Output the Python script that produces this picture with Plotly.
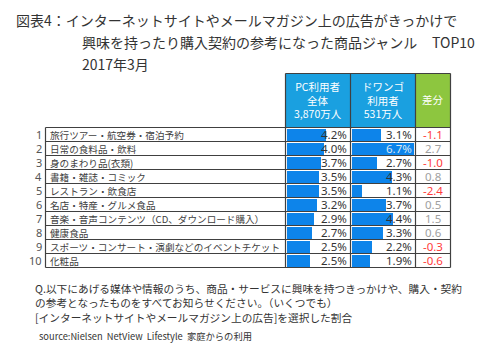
import plotly.graph_objects as go

W, H = 500, 351

ranks = ["1", "2", "3", "4", "5", "6", "7", "8", "9", "10"]
categories = [
    "旅行ツアー・航空券・宿泊予約",
    "日常の食料品・飲料",
    "身のまわり品(衣類)",
    "書籍・雑誌・コミック",
    "レストラン・飲食店",
    "名店・特産・グルメ食品",
    "音楽・音声コンテンツ（CD、ダウンロード購入）",
    "健康食品",
    "スポーツ・コンサート・演劇などのイベントチケット",
    "化粧品",
]
pc_values = [4.2, 4.0, 3.7, 3.5, 3.5, 3.2, 2.9, 2.7, 2.5, 2.5]
dwango_values = [3.1, 6.7, 2.7, 4.3, 1.1, 3.7, 4.4, 3.3, 2.2, 1.9]
diff_values = [-1.1, 2.7, -1.0, 0.8, -2.4, 0.5, 1.5, 0.6, -0.3, -0.6]

header_pc = "PC利用者<br>全体<br>3,870万人"
header_dw = "ドワンゴ<br>利用者<br>531万人"
header_diff = "差分"

title_lines = [
    "図表4：インターネットサイトやメールマガジン上の広告がきっかけで",
    "興味を持ったり購入契約の参考になった商品ジャンル",
    "2017年3月",
]
title_top10 = "TOP10"
footer_lines = [
    "Q.以下にあげる媒体や情報のうち、商品・サービスに興味を持つきっかけや、購入・契約",
    "の参考となったものをすべてお知らせください。（いくつでも）",
    "[インターネットサイトやメールマガジン上の広告]を選択した割合",
]
source_text = "source:Nielsen  NetView  Lifestyle  家庭からの利用"

# layout geometry in pixels
TOP = 127.5
ROW_H = 14
N = len(categories)
BOTTOM = TOP + ROW_H * N
HEAD_TOP = 73.5
X_LAB = 45.5
X_PC = 285.5
X_DW = 350.5
X_DIFF = 415.5
X_END = 450.5

def px(x):
    return x / W

def py(y):
    return 1 - y / H

FONT_JP = "Noto Sans CJK JP"
FONT_NUM = "Noto Sans, Noto Sans CJK JP"
BAR_COLOR = "#0d84ea"
LINE_COLOR = "#404040"

idx = list(range(N))
fig = go.Figure()
fig.add_trace(go.Bar(x=pc_values, y=idx, orientation="h", xaxis="x", yaxis="y",
                     marker=dict(color=BAR_COLOR, line=dict(width=0)), width=0.84,
                     hoverinfo="skip", showlegend=False))
fig.add_trace(go.Bar(x=dwango_values, y=idx, orientation="h", xaxis="x2", yaxis="y",
                     marker=dict(color=BAR_COLOR, line=dict(width=0)), width=0.84,
                     hoverinfo="skip", showlegend=False))

ann = []
# titles
ann.append(dict(text=title_lines[0], x=px(14), y=py(19.5), xanchor="left", yanchor="middle"))
ann.append(dict(text=title_lines[1], x=px(80), y=py(42), xanchor="left", yanchor="middle"))
ann.append(dict(text=title_top10, x=px(430), y=py(42), xanchor="left", yanchor="middle"))
ann.append(dict(text=title_lines[2], x=px(80), y=py(64), xanchor="left", yanchor="middle"))
for a in ann:
    a.update(xref="paper", yref="paper", showarrow=False,
             font=dict(family=FONT_JP, size=14, color="#333333"))

# headers
for txt, xc in [(header_pc, (X_PC + X_DW) / 2), (header_dw, (X_DW + X_DIFF) / 2),
                (header_diff, (X_DIFF + X_END) / 2)]:
    ann.append(dict(text=txt, x=px(xc), y=py(100), xref="paper", yref="paper",
                    xanchor="center", yanchor="middle", showarrow=False,
                    font=dict(family=FONT_JP, size=10.5, color="white")))

# rows
for i in idx:
    ann.append(dict(text=ranks[i], x=px(44), y=i, xref="paper", yref="y",
                    xanchor="right", yanchor="middle", showarrow=False,
                    font=dict(family=FONT_NUM, size=11, color="#555555")))
    ann.append(dict(text=categories[i], x=px(47.5), y=i, xref="paper", yref="y",
                    xanchor="left", yanchor="middle", showarrow=False,
                    font=dict(family=FONT_JP, size=9.6, color="#404040")))
    ann.append(dict(text=f"{pc_values[i]:.1f}%", x=px(X_DW - 1.5), y=i, xref="paper", yref="y",
                    xanchor="right", yanchor="middle", showarrow=False,
                    font=dict(family=FONT_NUM, size=11.5, color="#333333")))
    dcol = "#dde8f2" if dwango_values[i] >= 6 else "#333333"
    ann.append(dict(text=f"{dwango_values[i]:.1f}%", x=px(X_DIFF - 1.5), y=i, xref="paper", yref="y",
                    xanchor="right", yanchor="middle", showarrow=False,
                    font=dict(family=FONT_NUM, size=11.5, color=dcol)))
    fcol = "#ff3b3b" if diff_values[i] < 0 else "#a0a0a0"
    ann.append(dict(text=f"{diff_values[i]:.1f}", x=px((X_DIFF + X_END) / 2), y=i, xref="paper", yref="y",
                    xanchor="center", yanchor="middle", showarrow=False,
                    font=dict(family=FONT_NUM, size=11.5, color=fcol)))

# footer
for k, (line, yc) in enumerate(zip(footer_lines, [288, 302.5, 317])):
    ann.append(dict(text=line, x=px(33), y=py(yc), xref="paper", yref="paper",
                    xanchor="left", yanchor="middle", showarrow=False,
                    font=dict(family=FONT_JP, size=10.7, color="#333333")))
ann.append(dict(text=source_text, x=px(37), y=py(336), xref="paper", yref="paper",
                xanchor="left", yanchor="middle", showarrow=False,
                font=dict(family=FONT_JP, size=9.3, color="#333333")))

shapes = []
# header fills
shapes.append(dict(type="rect", xref="paper", yref="paper", x0=px(X_PC), x1=px(X_DIFF),
                   y0=py(TOP), y1=py(HEAD_TOP), fillcolor="#1aa0e0", line=dict(width=0), layer="below"))
shapes.append(dict(type="rect", xref="paper", yref="paper", x0=px(X_DIFF), x1=px(X_END),
                   y0=py(TOP), y1=py(HEAD_TOP), fillcolor="#8dc63f", line=dict(width=0), layer="below"))
ln = dict(color=LINE_COLOR, width=1.2)
# horizontal lines
for k in range(N + 1):
    yy = TOP + ROW_H * k
    shapes.append(dict(type="line", xref="paper", yref="paper", x0=px(X_LAB), x1=px(X_END),
                       y0=py(yy), y1=py(yy), line=ln, layer="above"))
shapes.append(dict(type="line", xref="paper", yref="paper", x0=px(X_PC), x1=px(X_END),
                   y0=py(HEAD_TOP), y1=py(HEAD_TOP), line=ln, layer="above"))
# vertical lines
shapes.append(dict(type="line", xref="paper", yref="paper", x0=px(X_LAB), x1=px(X_LAB),
                   y0=py(TOP), y1=py(BOTTOM), line=ln, layer="above"))
for xx in [X_PC, X_DW, X_DIFF, X_END]:
    shapes.append(dict(type="line", xref="paper", yref="paper", x0=px(xx), x1=px(xx),
                       y0=py(HEAD_TOP), y1=py(BOTTOM), line=ln, layer="above"))

RMAX = 6.85
fig.update_layout(
    width=W, height=H, margin=dict(l=0, r=0, t=0, b=0),
    paper_bgcolor="white", plot_bgcolor="rgba(0,0,0,0)",
    xaxis=dict(domain=[px(X_PC + 1.5), px(X_DW)], range=[0, RMAX], visible=False, fixedrange=True),
    xaxis2=dict(domain=[px(X_DW + 1.5), px(X_DIFF)], range=[0, RMAX], visible=False,
                anchor="y", fixedrange=True),
    yaxis=dict(domain=[py(BOTTOM), py(TOP)], range=[N - 0.5, -0.5], visible=False, fixedrange=True),
    annotations=ann, shapes=shapes, bargap=0,
)

fig.write_html("out.html")
